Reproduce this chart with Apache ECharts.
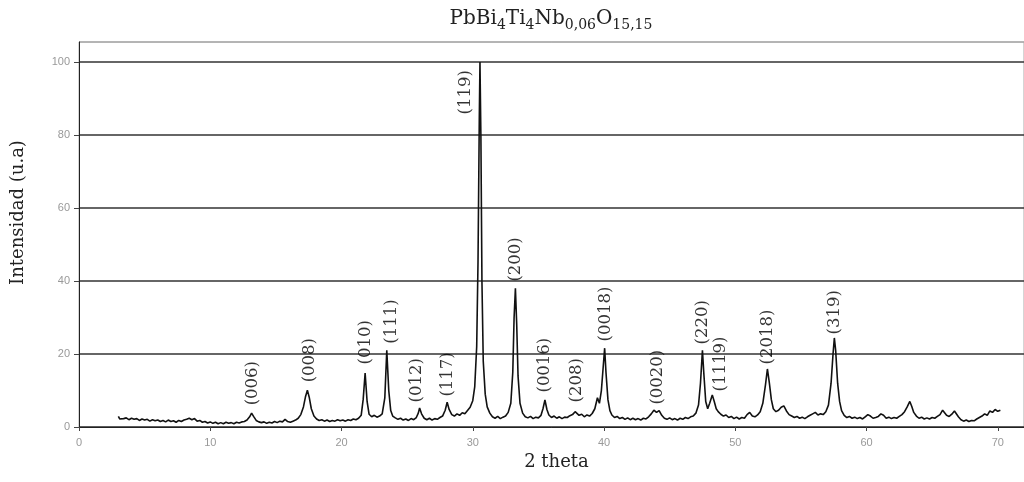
<!DOCTYPE html>
<html>
<head>
<meta charset="utf-8">
<script src="https://cdn.jsdelivr.net/npm/echarts@6/dist/echarts.min.js"></script>
<style>html,body{margin:0;padding:0;background:#fff}#c{width:1024px;height:482px}</style>
</head>
<body>
<div id="c"></div>
<script>
// XRD pattern: [2theta, intensity]
const pattern = [
[3.0,2.9],[3.1,2.2],[3.2,2.6],[3.4,2.3],[3.6,2.5],[3.8,2.0],[4.0,2.4],[4.2,2.1],[4.4,2.3],[4.6,1.8],[4.8,2.2],[5.0,1.9],[5.2,2.1],[5.4,1.6],[5.6,2.0],[5.8,1.7],[6.0,1.9],[6.2,1.5],[6.4,1.8],[6.6,1.4],[6.8,1.9],[7.0,1.5],[7.2,1.7],[7.4,1.3],[7.6,1.8],[7.8,1.5],[8.0,1.9],[8.2,2.1],[8.4,2.4],[8.6,2.0],[8.8,2.3],[9.0,1.6],[9.2,1.8],[9.4,1.3],[9.6,1.5],[9.8,1.1],[10.0,1.4],[10.2,1.0],[10.4,1.3],[10.6,0.9],[10.8,1.2],[11.0,0.9],[11.2,1.3],[11.4,1.0],[11.6,1.2],[11.8,0.9],[12.0,1.3],[12.2,1.1],[12.4,1.4],[12.6,1.5],[12.8,1.9],[13.0,2.8],[13.15,3.8],[13.3,2.9],[13.5,1.8],[13.7,1.4],[13.9,1.2],[14.1,1.4],[14.3,1.0],[14.5,1.3],[14.7,1.1],[14.9,1.5],[15.1,1.2],[15.3,1.6],[15.5,1.4],[15.7,2.1],[15.9,1.5],[16.1,1.3],[16.3,1.6],[16.5,1.9],[16.7,2.4],[16.9,3.4],[17.1,5.5],[17.25,8.2],[17.4,10.1],[17.55,8.0],[17.7,5.0],[17.9,3.0],[18.1,2.2],[18.3,1.8],[18.5,2.0],[18.7,1.6],[18.9,1.9],[19.1,1.5],[19.3,1.8],[19.5,1.6],[19.7,2.0],[19.9,1.7],[20.1,1.9],[20.3,1.6],[20.5,2.0],[20.7,1.8],[20.9,2.2],[21.1,2.0],[21.3,2.4],[21.5,3.2],[21.65,7.5],[21.8,14.8],[21.95,7.0],[22.1,3.5],[22.3,2.8],[22.5,3.2],[22.7,2.7],[22.9,3.0],[23.1,3.6],[23.3,8.0],[23.45,21.0],[23.6,10.0],[23.75,4.5],[23.9,3.0],[24.1,2.5],[24.3,2.1],[24.5,2.4],[24.7,1.9],[24.9,2.2],[25.1,1.8],[25.3,2.3],[25.5,2.0],[25.7,2.6],[25.85,3.8],[25.95,5.2],[26.1,3.6],[26.3,2.4],[26.5,2.0],[26.7,2.4],[26.9,1.9],[27.1,2.3],[27.3,2.1],[27.5,2.6],[27.7,3.0],[27.9,4.6],[28.05,6.8],[28.2,4.8],[28.4,3.4],[28.6,3.0],[28.8,3.6],[29.0,3.2],[29.2,3.9],[29.4,3.6],[29.6,4.5],[29.8,5.4],[30.0,7.2],[30.15,11.0],[30.3,22],[30.4,45],[30.5,85],[30.55,100],[30.62,80],[30.7,40],[30.8,18],[30.95,9],[31.1,5.5],[31.3,3.8],[31.5,2.8],[31.7,2.4],[31.9,2.9],[32.1,2.3],[32.3,2.7],[32.5,3.0],[32.7,4.0],[32.9,6.5],[33.05,15],[33.15,30],[33.25,38],[33.35,28],[33.45,14],[33.6,6.5],[33.8,3.8],[34.0,2.8],[34.2,2.5],[34.4,2.9],[34.6,2.3],[34.8,2.7],[35.0,2.5],[35.2,3.2],[35.35,5.0],[35.5,7.4],[35.65,4.8],[35.8,3.3],[36.0,2.6],[36.2,3.0],[36.4,2.4],[36.6,2.8],[36.8,2.3],[37.0,2.7],[37.2,2.6],[37.4,3.1],[37.6,3.4],[37.8,4.2],[37.95,4.0],[38.1,3.2],[38.3,3.5],[38.5,2.8],[38.7,3.3],[38.9,3.0],[39.1,3.7],[39.3,5.0],[39.5,8.0],[39.65,6.5],[39.8,10],[39.95,17],[40.05,21.6],[40.15,15],[40.3,7.5],[40.45,4.5],[40.6,3.3],[40.8,2.6],[41.0,2.9],[41.2,2.3],[41.4,2.6],[41.6,2.1],[41.8,2.5],[42.0,2.0],[42.2,2.4],[42.4,2.0],[42.6,2.3],[42.8,1.9],[43.0,2.4],[43.2,2.2],[43.4,2.8],[43.6,3.6],[43.8,4.6],[44.0,4.0],[44.2,4.5],[44.4,3.2],[44.6,2.4],[44.8,2.1],[45.0,2.5],[45.2,2.0],[45.4,2.3],[45.6,1.9],[45.8,2.4],[46.0,2.1],[46.2,2.6],[46.4,2.3],[46.6,2.8],[46.8,3.0],[47.0,3.8],[47.2,6.0],[47.35,12],[47.5,21],[47.6,15],[47.75,7.0],[47.9,5.0],[48.05,6.5],[48.25,8.8],[48.4,7.0],[48.55,5.0],[48.7,4.2],[48.9,3.5],[49.1,3.0],[49.3,3.3],[49.5,2.6],[49.7,2.9],[49.9,2.3],[50.1,2.7],[50.3,2.2],[50.5,2.6],[50.7,2.4],[50.9,3.4],[51.1,4.0],[51.3,3.0],[51.5,2.8],[51.7,3.3],[51.9,4.2],[52.1,6.5],[52.3,11.5],[52.45,15.9],[52.6,12],[52.75,7.5],[52.9,5.0],[53.1,4.2],[53.3,4.6],[53.5,5.4],[53.7,5.8],[53.9,4.4],[54.1,3.4],[54.3,3.0],[54.5,2.6],[54.7,2.9],[54.9,2.4],[55.1,2.7],[55.3,2.3],[55.5,2.8],[55.7,3.2],[55.9,3.6],[56.1,4.0],[56.3,3.3],[56.5,3.6],[56.7,3.4],[56.9,4.2],[57.1,6.0],[57.3,12],[57.45,20],[57.55,24.4],[57.65,21],[57.8,12],[57.95,7],[58.1,4.5],[58.3,3.2],[58.5,2.6],[58.7,2.9],[58.9,2.4],[59.1,2.7],[59.3,2.3],[59.5,2.6],[59.7,2.2],[59.9,2.8],[60.1,3.4],[60.3,3.0],[60.5,2.4],[60.7,2.6],[60.9,2.9],[61.1,3.6],[61.3,3.2],[61.5,2.4],[61.7,2.7],[61.9,2.3],[62.1,2.6],[62.3,2.4],[62.5,2.9],[62.7,3.4],[62.9,4.2],[63.1,5.5],[63.3,7.0],[63.45,5.6],[63.6,4.0],[63.8,3.0],[64.0,2.4],[64.2,2.7],[64.4,2.2],[64.6,2.5],[64.8,2.2],[65.0,2.6],[65.2,2.4],[65.4,2.9],[65.6,3.4],[65.8,4.6],[65.95,4.2],[66.1,3.2],[66.3,2.9],[66.5,3.5],[66.7,4.4],[66.85,4.0],[67.0,2.8],[67.2,2.0],[67.4,1.6],[67.6,1.9],[67.8,1.5],[68.0,1.8],[68.2,1.7],[68.4,2.2],[68.6,2.6],[68.8,3.0],[69.0,3.6],[69.2,3.2],[69.4,4.4],[69.6,4.0],[69.8,4.8],[70.0,4.3],[70.2,4.6]
];

// Miller-index labels, their 2theta position and the intensity where the label starts
const peakLabels = ['(006)','(008)','(010)','(111)','(012)','(117)','(119)','(200)','(0016)','(208)','(0018)','(0020)','(220)','(1119)','(2018)','(319)'];
const peakX      = [13.2, 17.6, 21.85, 23.8, 25.7, 28.1, 29.5, 33.25, 35.5, 37.9, 40.1, 44.1, 47.55, 48.9, 52.5, 57.6];
const labelY     = [5.8, 12.1, 17.0, 22.7, 6.6, 8.2, 85.5, 39.7, 9.3, 6.6, 23.3, 6.0, 22.5, 9.6, 17.0, 25.2];

const xTicks = [0, 10, 20, 30, 40, 50, 60, 70];
const yTicks = [0, 20, 40, 60, 80, 100];

const labelData = peakLabels.map((n, i) => ({ name: n, value: [peakX[i], labelY[i]] }));

const serif = '"DejaVu Serif", "Liberation Serif", serif';
const chart = echarts.init(document.getElementById('c'), null, { renderer: 'canvas' });
chart.setOption({
  animation: false,
  backgroundColor: '#fff',
  title: {
    text: '{m|PbBi}{s|4}{m|Ti}{s|4}{m|Nb}{s|0,06}{m|O}{s|15,15}',
    left: 546,
    top: 0,
    textAlign: 'center',
    textStyle: {
      fontWeight: 'normal',
      rich: {
        m: { fontFamily: serif, fontSize: 20, fontWeight: 'normal', color: '#222', lineHeight: 27, verticalAlign: 'middle' },
        s: { fontFamily: serif, fontSize: 14, fontWeight: 'normal', color: '#222', lineHeight: 27, verticalAlign: 'bottom' }
      }
    }
  },
  grid: { left: 79, right: -1, top: 42, bottom: 55, show: true, borderColor: '#aaa', borderWidth: 1 },
  xAxis: {
    type: 'value', min: 0, max: 72, interval: 10,
    name: '2 theta', nameLocation: 'middle', nameGap: 24,
    nameTextStyle: { fontFamily: serif, fontSize: 18, color: '#222', padding: [0, 0, 0, 10] },
    axisLine: { show: true, lineStyle: { color: '#222', width: 1 } },
    axisTick: { show: true, length: 4, lineStyle: { color: '#444' } },
    axisLabel: { color: '#999', fontFamily: 'Liberation Sans, Arial, sans-serif', fontSize: 11, margin: 10, showMaxLabel: false,
      formatter: v => xTicks.includes(v) ? String(v) : '' },
    splitLine: { show: false }
  },
  yAxis: {
    type: 'value', min: 0, max: 105.5, interval: 20,
    name: 'Intensidad (u.a)', nameLocation: 'middle', nameGap: 52,
    nameTextStyle: { fontFamily: serif, fontSize: 18, color: '#222', padding: [0, 0, 0, 44] },
    axisLine: { show: true, lineStyle: { color: '#222', width: 1 } },
    axisTick: { show: true, length: 5, lineStyle: { color: '#444' } },
    axisLabel: { color: '#999', fontFamily: 'Liberation Sans, Arial, sans-serif', fontSize: 11, margin: 9, showMaxLabel: false,
      formatter: v => yTicks.includes(v) ? String(v) : '' },
    splitLine: { show: true, lineStyle: { color: ['#333', '#333', '#333', '#333', '#333', '#333', '#aaa'], width: 1.5 } }
  },
  series: [
    {
      type: 'line', data: pattern, showSymbol: false, symbol: 'none',
      lineStyle: { color: '#111', width: 1.6 }, z: 3
    },
    {
      type: 'scatter', data: labelData, symbolSize: 1,
      itemStyle: { color: 'rgba(0,0,0,0)' },
      label: {
        show: true, formatter: p => p.name, position: 'top', distance: 0,
        rotate: 90, align: 'left', verticalAlign: 'middle',
        fontFamily: serif, fontSize: 16.5, color: '#000'
      },
      z: 4
    }
  ]
});
</script>
</body>
</html>
